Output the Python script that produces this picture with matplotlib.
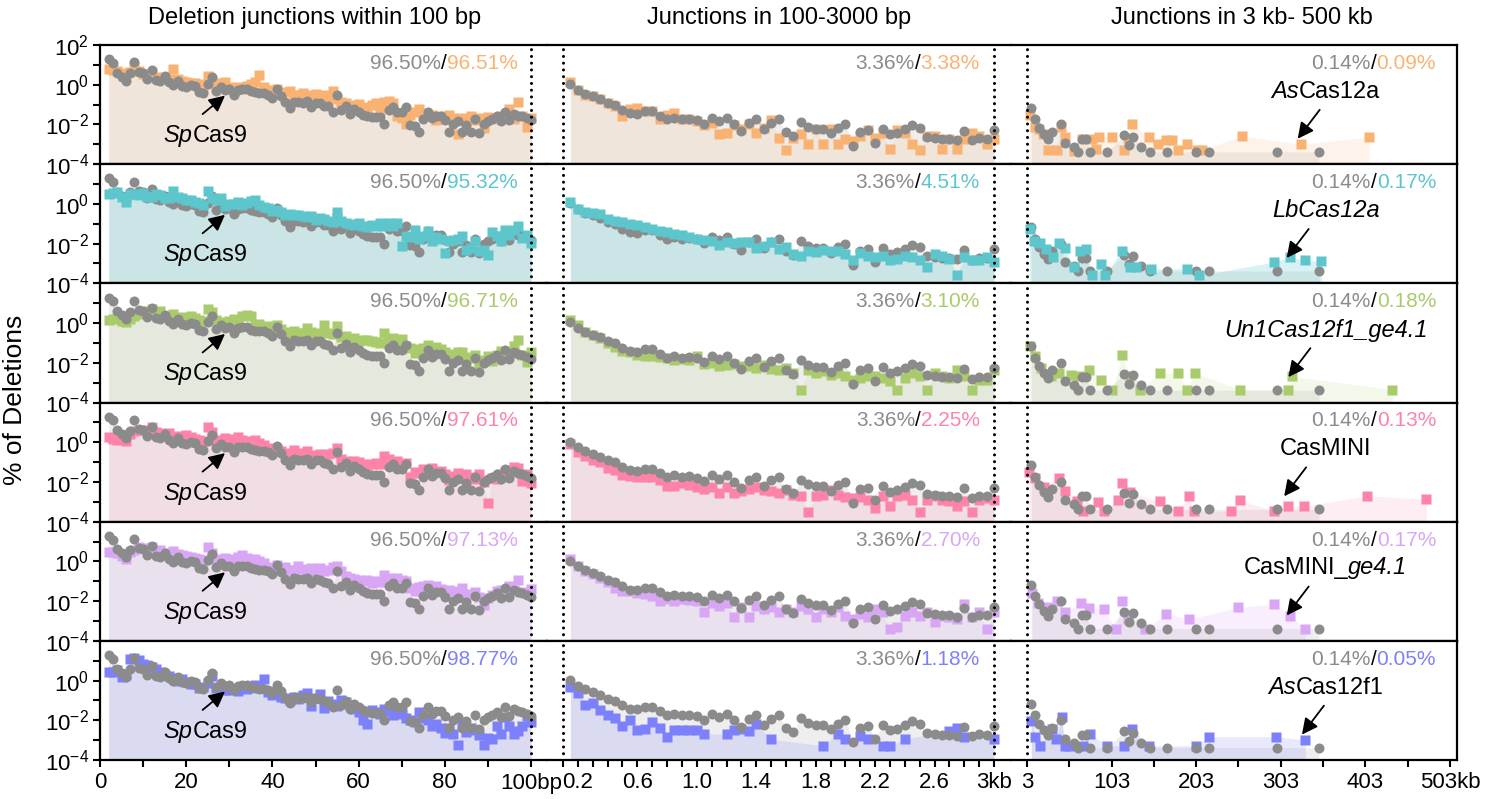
import numpy as np
import matplotlib.pyplot as plt
import matplotlib.transforms as mtrans
from matplotlib.ticker import FixedLocator, NullFormatter

plt.rcParams['font.family'] = 'Liberation Sans'
plt.rcParams['mathtext.fontset'] = 'custom'
plt.rcParams['mathtext.rm'] = 'Liberation Sans'
plt.rcParams['mathtext.it'] = 'Liberation Sans:italic'

# ---- data (log10 of % of deletions) ----
bp = np.arange(2, 101)                 # 2..100 bp
mid_kb = np.arange(0.15, 3.0001, 0.05)  # 0.15..3.0 kb bins

sp_short = [1.28, 1.1, 0.6, 0.4, 0.2, 0.58, 1.12, 0.65, 0.6, 0.3,
            0.75, 0.25, 0.2, 0.42, 0.12, -0.03, 0.2, -0.05, -0.1, 0.0,
            -0.05, -0.35, -0.4, 0.05, 0.38, -0.3, -0.1, -0.25, -0.22, -0.5,
            -0.25, -0.22, -0.22, -0.33, -0.38, -0.42, -0.42, -0.5, -0.65, -0.2,
            -0.55, -0.88, -1.15, -0.85, -0.88, -0.9, -0.83, -1.1, -0.9, -0.92,
            -1.05, -1.08, -1.35, -0.5, -1.25, -1.05, -1.45, -1.2, -1.35, -1.5,
            -1.6, -1.65, -1.65, -1.65, -2.0, -1.25, -1.1, -1.35, -1.35, -1.1,
            -2.05, -2.1, -2.4, -1.75, -1.35, -1.7, -1.55, -1.55, -1.8, -2.4,
            -2.0, -1.85, -2.4, -2.05, -2.4, -1.75, -2.45, -2.0, -1.85, -1.75,
            -1.6, -1.85, -1.35, -1.8, -1.45, -1.55, -1.6, -1.7, -1.8]
sp_mid = [0.03, -0.25, -0.45, -0.58, -0.72, -0.92, -1.02, -1.25, -1.42, -1.45,
          -1.33, -1.33, -1.55, -1.75, -1.67, -1.75, -1.72, -1.78, -1.97, -1.67,
          -1.83, -1.67, -2.0, -2.33, -1.92, -1.75, -2.22, -1.92, -1.75, -2.38,
          -2.58, -1.88, -2.12, -2.22, -2.22, -2.45, -2.17, -2.0, -3.08, -2.38,
          -2.28, -2.92, -2.22, -2.5, -2.42, -2.25, -2.05, -2.17, -2.62, -2.67,
          -2.72, -2.72, -2.78, -2.33, -2.8, -2.7, -2.72, -2.28]
sp_long_kb = [8, 13, 17, 23, 28, 33, 43, 48, 58, 63, 68, 73, 78, 98, 118, 123,
              128, 138, 148, 168, 203, 218, 298, 348]
sp_long = [-1.17, -1.75, -2.17, -2.5, -2.75, -2.38, -2.0, -2.92, -3.12, -3.38,
           -2.72, -2.72, -3.38, -3.38, -2.55, -3.05, -2.62, -3.12, -3.38, -3.38,
           -3.38, -3.38, -3.38, -3.38]

as12a_short = [0.8, 0.75, 0.7, 0.6, 0.55, 0.65, 0.9, 0.7, 0.55, 0.45,
               0.6, 0.4, 0.35, 0.4, 0.3, 0.78, 0.3, 0.2, 0.15, 0.1,
               0.1, 0.05, -0.1, 0.45, 0.2, -0.05, 0.1, 0.15, -0.1, -0.3,
               -0.1, -0.2, -0.05, 0.05, 0.15, 0.5, -0.1, -0.25, -0.3, -0.2,
               -0.45, -0.35, -0.3, -0.5, -0.5, -0.4, -0.6, -0.5, -0.45, -0.8,
               -0.5, -0.65, -0.3, -0.7, -0.85, -0.9, -1.0, -1.05, -0.95, -1.1,
               -1.2, -1.0, -0.9, -1.3, -0.85, -0.8, -0.9, -1.6, -1.7, -2.0,
               -1.5, -1.35, -1.2, -1.4, -1.55, -1.5, -1.8, -1.6, -1.75, -1.5,
               -1.7, -2.5, -1.7, -1.9, -1.6, -1.8, -1.7, -2.2, -1.65, -1.7,
               -1.75, -1.6, -1.5, -1.2, -1.75, -0.85, -1.6, -2.15, -1.7]
as12a_mid = [0.12, -0.25, -0.5, -0.55, -0.72, -0.92, -1.08, -1.55, -1.22, -1.17,
             -1.33, -1.33, -1.72, -1.5, -1.42, -1.75, -1.72, -1.83, -2.05, -1.92,
             -2.5, -2.45, -2.05, -2.25, -2.0, -2.42, -2.17, -1.78, -2.67, -3.28,
             -2.67, -2.5, -3.0, -2.25, -3.0, -2.22, -3.0, -2.75, -2.83, -2.58,
             -2.28, -2.67, -2.45, -3.25, -2.28, -2.42, -3.0, -3.28, -2.58, -2.58,
             -3.25, -2.75, -3.25, -2.75, -2.42, -2.58, -3.0, -2.75]
as12a_long_kb = [6, 12, 17, 22, 28, 38, 43, 48, 58, 68, 80, 84, 88, 103, 118,
                 122, 127, 147, 158, 167, 174, 182, 192, 204, 210, 257, 327, 407]
as12a_long = [-1.5, -2.12, -2.25, -2.5, -3.28, -3.28, -2.12, -2.62, -3.33, -2.75,
              -2.75, -3.22, -2.62, -2.62, -3.28, -2.67, -2.0, -2.62, -3.0, -2.78,
              -2.78, -3.28, -3.0, -3.28, -3.28, -2.58, -3.0, -2.63]

lb12a_short = [0.5, 0.55, 0.6, 0.35, 0.1, 0.5, 0.5, 0.45, 0.55, 0.35,
               0.35, 0.5, 0.45, 0.3, 0.3, 0.65, 0.35, 0.3, 0.2, 0.2,
               0.1, 0.05, -0.05, 0.65, 0.3, 0.2, 0.3, -0.1, 0.0, 0.0,
               0.1, -0.05, 0.05, 0.15, 0.2, -0.05, -0.15, -0.2, -0.35, -0.3,
               -0.4, -0.55, -0.5, -0.55, -0.55, -0.6, -0.65, -0.6, -0.8, -0.7,
               -0.75, -0.85, -0.9, -0.4, -0.85, -0.95, -1.0, -1.05, -0.95, -1.1,
               -1.15, -1.05, -1.1, -0.95, -1.1, -0.95, -1.1, -0.95, -2.1, -1.6,
               -1.65, -1.3, -1.75, -1.6, -1.35, -1.85, -1.65, -1.75, -2.45, -1.85,
               -1.8, -1.75, -1.6, -2.3, -2.2, -1.85, -2.35, -2.3, -2.55, -1.4,
               -1.6, -1.85, -1.3, -1.55, -1.3, -1.1, -1.7, -1.55, -1.95]
lb12a_mid = [0.07, -0.27, -0.43, -0.48, -0.52, -0.77, -0.85, -0.93, -1.02, -1.07,
             -1.15, -1.27, -1.35, -1.43, -1.52, -1.55, -1.68, -1.77, -1.82, -1.85,
             -2.05, -1.93, -1.98, -1.93, -1.93, -2.22, -2.1, -1.93, -2.27, -2.18,
             -2.52, -2.6, -2.35, -2.43, -2.32, -2.38, -2.35, -2.52, -2.85, -2.48,
             -2.6, -2.68, -2.6, -2.85, -2.77, -2.6, -2.68, -2.85, -3.18, -2.52,
             -2.6, -2.77, -3.6, -2.68, -2.85, -2.82, -2.68, -2.93]
lb12a_long_kb = [6, 11, 18, 25, 34, 41, 48, 58, 66, 73, 80, 90, 95, 115, 125,
                 132, 150, 192, 206, 295, 314, 332, 351]
lb12a_long = [-1.27, -1.85, -1.98, -2.27, -2.68, -1.98, -2.22, -3.18, -2.35, -2.27,
              -3.6, -3.02, -3.6, -2.35, -3.18, -3.18, -3.27, -3.27, -3.6, -2.93,
              -2.68, -2.85, -2.88]

un1_short = [0.15, 0.2, 0.25, 0.1, 0.05, 0.2, 0.35, 0.45, 0.5, 0.6,
             0.73, 0.55, 0.6, 0.35, 0.3, 0.45, 0.25, 0.3, 0.15, 0.35,
             0.25, 0.15, 0.1, 0.73, 0.55, 0.15, 0.05, 0.0, 0.1, 0.2,
             0.1, 0.35, 0.4, 0.35, -0.1, -0.05, -0.2, -0.15, -0.3, -0.1,
             -0.3, -0.45, -0.5, -0.4, -0.5, -0.5, -0.25, -0.45, -0.6, -0.5,
             -0.1, -0.5, -0.55, -0.15, -0.7, -0.65, -0.85, -0.75, -0.9, -0.85,
             -0.85, -0.9, -0.95, -1.0, -0.5, -0.9, -0.75, -1.0, -0.8, -1.15,
             -1.25, -1.5, -1.3, -1.25, -1.1, -1.35, -1.2, -1.3, -1.45, -1.6,
             -1.55, -1.45, -1.45, -1.7, -1.75, -1.6, -2.0, -1.85, -1.65, -1.9,
             -1.6, -1.4, -1.75, -1.5, -1.15, -0.85, -1.6, -1.95, -1.45]
un1_mid = [0.15, -0.1, -0.43, -0.6, -0.77, -0.98, -1.22, -1.43, -1.48, -1.6,
           -1.65, -1.68, -1.72, -1.77, -1.85, -1.82, -1.88, -1.68, -2.05, -2.02,
           -2.15, -2.1, -2.05, -2.15, -2.18, -2.27, -2.1, -2.32, -2.35, -2.27,
           -2.52, -3.35, -2.38, -2.52, -2.43, -2.6, -2.52, -2.68, -2.85, -2.77,
           -2.65, -2.68, -2.77, -2.93, -3.35, -2.77, -2.52, -2.68, -3.35, -2.52,
           -2.68, -2.77, -2.35, -2.68, -3.35, -2.85, -2.88, -2.35]
un1_long_kb = [6, 13, 20, 31, 41, 55, 66, 76, 90, 104, 115, 125, 136, 160, 181,
               192, 202, 255, 311, 316, 435]
un1_long = [-1.18, -1.68, -2.27, -2.68, -2.52, -2.6, -2.68, -2.35, -2.85, -3.35,
            -1.6, -2.68, -3.35, -2.52, -2.52, -3.35, -2.52, -3.35, -3.35, -2.68,
            -3.35]

mini_short = [0.25, 0.15, 0.1, 0.15, 0.05, 0.4, 0.55, 0.6, 0.6, 0.55,
              0.78, 0.5, 0.45, 0.3, 0.45, 0.3, 0.2, 0.3, 0.35, 0.25,
              0.15, 0.1, 0.05, 0.78, 0.5, 0.05, 0.1, 0.2, 0.0, 0.15,
              0.25, 0.1, 0.0, 0.05, 0.1, -0.05, -0.15, -0.35, -0.3, -0.35,
              -0.45, -0.55, -0.6, -0.4, -0.55, -0.6, -0.45, -0.7, -0.65, -0.6,
              -0.75, -0.6, -0.55, -0.3, -0.85, -0.95, -1.0, -0.95, -1.0, -1.1,
              -1.15, -1.1, -1.05, -1.1, -0.7, -0.85, -1.2, -0.95, -1.1, -1.05,
              -1.75, -1.5, -1.55, -1.35, -1.45, -1.3, -1.5, -1.45, -1.6, -1.9,
              -1.7, -1.55, -1.7, -1.6, -1.75, -1.85, -1.6, -2.0, -3.05, -1.8,
              -1.85, -1.6, -1.5, -1.4, -1.25, -1.3, -1.95, -1.6, -2.05]
mini_mid = [-0.07, -0.48, -0.7, -0.87, -0.98, -1.32, -1.4, -1.65, -1.7, -1.73,
            -1.77, -1.77, -1.9, -2.2, -2.2, -2.07, -2.15, -2.27, -2.37, -2.23,
            -2.57, -2.27, -2.57, -2.48, -2.37, -2.27, -2.4, -2.48, -2.57, -2.4,
            -2.65, -2.73, -3.53, -2.73, -2.65, -2.4, -2.65, -2.77, -2.82, -2.77,
            -2.9, -3.32, -2.7, -3.23, -2.7, -2.65, -2.9, -3.53, -2.9, -2.73,
            -2.9, -2.98, -3.23, -2.98, -3.53, -2.9, -2.82, -2.9]
mini_long_kb = [5, 13, 23, 41, 48, 62, 69, 87, 94, 111, 115, 125, 160, 181, 195,
                200, 244, 255, 295, 311, 330, 405, 475]
mini_long = [-1.48, -1.82, -2.23, -1.82, -2.48, -2.98, -3.48, -3.03, -3.48, -2.9,
             -2.07, -2.53, -2.98, -3.48, -2.73, -3.48, -3.48, -2.9, -3.48, -3.23,
             -3.23, -2.7, -2.87]

minige_short = [0.45, 0.45, 0.4, 0.25, 0.1, 0.45, 0.55, 0.7, 0.65, 0.6,
                0.72, 0.5, 0.55, 0.4, 0.3, 0.5, 0.35, 0.3, 0.25, 0.2,
                0.15, 0.1, 0.05, 0.72, 0.4, 0.1, 0.05, 0.15, 0.0, 0.1,
                0.2, 0.3, 0.15, 0.05, 0.1, 0.0, -0.1, -0.3, -0.35, -0.2,
                -0.4, -0.3, -0.45, -0.45, -0.25, -0.4, -0.5, -0.35, -0.5, -0.35,
                -0.5, -0.45, -0.3, -0.25, -0.5, -0.75, -0.85, -0.9, -0.95, -1.0,
                -0.95, -1.1, -1.0, -1.05, -0.7, -0.85, -1.0, -0.85, -0.95, -1.0,
                -1.35, -1.5, -1.3, -1.25, -1.2, -1.35, -1.25, -1.4, -1.5, -1.45,
                -1.5, -1.6, -1.35, -1.75, -1.65, -1.55, -1.8, -2.2, -1.85, -1.7,
                -1.5, -1.45, -1.6, -1.25, -1.45, -0.95, -1.55, -1.6, -1.4]
minige_mid = [0.1, -0.23, -0.48, -0.65, -0.82, -1.03, -1.32, -1.48, -1.48, -1.57,
              -1.65, -1.73, -1.98, -1.9, -1.98, -1.87, -1.93, -1.98, -2.57, -2.07,
              -2.23, -2.07, -2.82, -2.32, -2.82, -2.23, -2.4, -2.32, -2.57, -2.4,
              -2.57, -2.23, -2.4, -2.82, -2.4, -2.57, -2.32, -2.73, -2.9, -2.65,
              -2.82, -2.4, -2.57, -3.4, -3.32, -2.73, -2.57, -2.73, -2.57, -3.07,
              -2.73, -2.82, -2.9, -2.15, -2.82, -2.57, -3.4, -2.57]
minige_long_kb = [9, 16, 27, 38, 48, 67, 76, 94, 108, 115, 122, 143, 167, 195,
                  253, 295, 314, 332]
minige_long = [-1.57, -2.07, -2.32, -1.98, -2.57, -2.07, -2.37, -2.4, -3.4, -1.98,
               -2.9, -3.4, -2.65, -2.9, -2.32, -2.15, -2.73, -3.4]

as12f1_short = [0.45, 0.42, 0.55, 0.17, 0.3, 1.08, 1.15, 1.05, 0.85, 0.8,
                0.7, 0.6, 0.45, 0.3, 0.25, 0.15, 0.0, 0.1, -0.05, -0.15,
                -0.15, -0.35, -0.3, -0.1, 0.25, -0.35, -0.3, -0.5, -0.5, -0.45,
                -0.55, -0.3, -0.4, -0.3, -0.2, -0.3, 0.08, -0.6, -0.75, -0.55,
                -0.85, -0.9, -1.0, -0.85, -0.95, -0.75, -0.65, -1.3, -0.9, -0.7,
                -1.4, -1.05, -1.2, -1.3, -1.0, -1.1, -1.25, -1.45, -1.6, -2.0,
                -2.2, -1.5, -1.6, -1.7, -1.45, -1.55, -1.75, -1.45, -1.7, -1.9,
                -2.0, -2.1, -1.6, -1.9, -2.0, -2.3, -2.2, -2.4, -2.65, -2.4,
                -2.7, -3.25, -2.2, -2.6, -2.4, -2.5, -2.75, -3.25, -2.9, -2.95,
                -2.3, -2.7, -1.85, -2.3, -2.7, -2.55, -2.3, -1.8, -2.1]
as12f1_mid = [-0.3, -0.63, -1.22, -1.13, -1.47, -1.72, -1.88, -2.27, -1.97, -2.5,
              -2.43, -2.1, -2.38, -2.85, -2.47, -2.5, -2.5, -2.47, -2.68, None,
              None, -2.7, -2.48, -2.45, -2.53, -2.2, None, -2.95, None, None,
              None, None, None, None, -3.28, None, -2.67, -2.95, None, -2.78,
              -2.95, None, -3.28, -3.28, None, -2.95, None, None, None, None,
              None, -2.53, -2.37, -2.82, None, None, None, -2.95]
as12f1_long_kb = [8, 13, 18, 33, 37, 44, 48, 53, 69, 78, 98, 118, 127, 147, 203,
                  218, 297, 332]
as12f1_long = [-2.03, -2.82, -3.28, -2.42, -2.95, -1.82, -3.28, -3.28, -3.28, -2.7,
               -3.28, -3.28, -2.42, -3.28, -3.28, -2.83, -2.83, -2.98]

# label pieces: (text, font style)
names = [[('As', 'italic'), ('Cas12a', 'normal')],
         [('LbCas12a', 'italic')],
         [('Un1Cas12f1_ge4.1', 'italic')],
         [('CasMINI', 'normal')],
         [('CasMINI_', 'normal'), ('ge4.1', 'italic')],
         [('As', 'italic'), ('Cas12f1', 'normal')]]
sp_name = [('Sp', 'italic'), ('Cas9', 'normal')]
colors = ['#fab272', '#5cc6cc', '#a9cb6b', '#fd83a8', '#d9a6f6', '#7d80fb']
fill_alpha = [0.15, 0.24, 0.13, 0.14, 0.18, 0.17]
pct_short = ['96.51%', '95.32%', '96.71%', '97.61%', '97.13%', '98.77%']
pct_mid = ['3.38%', '4.51%', '3.10%', '2.25%', '2.70%', '1.18%']
pct_long = ['0.09%', '0.17%', '0.18%', '0.13%', '0.17%', '0.05%']
arrow_target = [327, 314, 316, 311, 314, 332]
sp_pct = ['96.50%', '3.36%', '0.14%']

shorts = [as12a_short, lb12a_short, un1_short, mini_short, minige_short, as12f1_short]
mids = [as12a_mid, lb12a_mid, un1_mid, mini_mid, minige_mid, as12f1_mid]
long_kbs = [as12a_long_kb, lb12a_long_kb, un1_long_kb, mini_long_kb, minige_long_kb, as12f1_long_kb]
longs = [as12a_long, lb12a_long, un1_long, mini_long, minige_long, as12f1_long]

gray = '#8b8b8b'
W, H = 1496, 799
fig = plt.figure(figsize=(W / 100, H / 100), dpi=100)
renderer = fig.canvas.get_renderer()


def mixed_text(ax, x, y, parts, size, trans):
    # centred text made of pieces in different font styles
    widths = []
    for s, st in parts:
        t = ax.text(0, 0, s, fontsize=size, fontstyle=st)
        widths.append(t.get_window_extent(renderer).width)
        t.remove()
    tr = mtrans.offset_copy(trans, fig=fig, x=-sum(widths) / 2, y=0, units='dots')
    prev = ax.text(x, y, parts[0][0], fontsize=size, fontstyle=parts[0][1],
                   ha='left', va='center', transform=tr, zorder=6)
    for s, st in parts[1:]:
        prev = ax.annotate(s, xy=(1, 0), xycoords=prev, ha='left', va='bottom',
                           fontsize=size, fontstyle=st, zorder=6)


col_px = [(100, 547), (547, 1011), (1011, 1457)]
xlims = [(0, 103.7), (-0.0077, 3.114), (-15.9, 511.3)]
vlines = [[100], [0.1, 3.0], [3]]
xmaj = [[0, 20, 40, 60, 80, 100],
        [0.2, 0.6, 1.0, 1.4, 1.8, 2.2, 2.6, 3.0],
        [3, 103, 203, 303, 403, 503]]
xmaj_lbl = [['0', '20', '40', '60', '80', '100bp'],
            ['0.2', '0.6', '1.0', '1.4', '1.8', '2.2', '2.6', '3kb'],
            ['3', '103', '203', '303', '403', '503kb']]
xmin = [[10, 30, 50, 70, 90],
        list(np.round(np.arange(0.1, 3.01, 0.1), 2)),
        [53, 153, 253, 353, 453]]
pct_x = [0.935, 0.933, 0.953]
top0 = 45
rh = 715 / 6

for r in range(6):
    col = colors[r]
    sp_x = [bp, mid_kb, np.array(sp_long_kb)]
    sp_y = [sp_short, sp_mid, sp_long]
    v_x = [bp, mid_kb, np.array(long_kbs[r])]
    v_y = [shorts[r], mids[r], longs[r]]
    pct_v = [pct_short[r], pct_mid[r], pct_long[r]]
    for c in range(3):
        l, rr = col_px[c]
        top = top0 + r * rh
        ax = fig.add_axes([l / W, 1 - (top + rh) / H, (rr - l) / W, rh / H])
        ax.set_yscale('log')
        ax.set_ylim(1e-4, 1e2)
        ax.set_xlim(*xlims[c])

        xs = np.asarray(sp_x[c], dtype=float)
        ys = 10 ** np.array(sp_y[c], dtype=float)
        xv = np.asarray(v_x[c], dtype=float)
        yv = 10 ** np.array(v_y[c], dtype=float)
        ok = np.isfinite(yv)

        ax.fill_between(xs, 1e-4, ys, color=gray, alpha=0.14, lw=0, zorder=1)
        ax.fill_between(xv[ok], 1e-4, yv[ok], color=col, alpha=fill_alpha[r],
                        lw=0, zorder=1)
        zv = 4 if r == 1 else 3
        ax.plot(xv, yv, 's', ms=7.0, color=col, mec='none', zorder=zv)
        ax.plot(xs, ys, 'o', ms=7.2, color=gray, mec='none', zorder=3.5)

        for xl in vlines[c]:
            ax.axvline(xl, color='k', lw=2.2, ls=(0, (0.01, 2.2)),
                       dash_capstyle='round', zorder=5)

        for s in ax.spines.values():
            s.set_linewidth(1.6)
        ax.spines['left'].set_visible(c == 0)
        ax.spines['right'].set_visible(c == 2)

        # x ticks
        ax.xaxis.set_major_locator(FixedLocator(xmaj[c]))
        ax.xaxis.set_minor_locator(FixedLocator(xmin[c]))
        ax.xaxis.set_minor_formatter(NullFormatter())
        if r == 5:
            ax.set_xticklabels(xmaj_lbl[c])
        else:
            ax.set_xticklabels([])
        ax.tick_params(axis='x', which='both', direction='out', length=5,
                       width=1.5, labelsize=16, pad=4)

        # y ticks
        if c == 0:
            ax.yaxis.set_major_locator(FixedLocator([1e-4, 1e-2, 1, 1e2]))
            ax.yaxis.set_minor_locator(FixedLocator([1e-3, 1e-1, 1e1]))
            ax.yaxis.set_minor_formatter(NullFormatter())
            ylbl = [r'$\mathregular{10^{-4}}$', r'$\mathregular{10^{-2}}$',
                    r'$\mathregular{10^{0}}$',
                    r'$\mathregular{10^{2}}$' if r == 0 else '']
            ax.set_yticklabels(ylbl)
            ax.tick_params(axis='y', which='both', direction='out', length=5,
                           width=1.5, labelsize=16, pad=3)
        else:
            ax.tick_params(axis='y', which='both', left=False, right=False,
                           labelleft=False)

        # percentage text: gray / colored
        t3 = ax.text(pct_x[c], 0.845, pct_v[c], color=col, fontsize=15,
                     ha='right', va='center', transform=ax.transAxes, zorder=6)
        t2 = ax.annotate('/', xy=(0, 0), xycoords=t3, ha='right', va='bottom',
                         fontsize=15, color='k', zorder=6)
        ax.annotate(sp_pct[c], xy=(0, 0), xycoords=t2, ha='right', va='bottom',
                    fontsize=15, color=gray, zorder=6)

        xtr = ax.get_xaxis_transform()
        if c == 0:
            mixed_text(ax, 24.5, 0.24, sp_name, 17, xtr)
            ax.annotate('', xy=(29, 0.575), xytext=(23.8, 0.42),
                        xycoords=xtr, textcoords=xtr,
                        arrowprops=dict(arrowstyle='-|>', color='k', lw=1.3,
                                        mutation_scale=24, shrinkA=0, shrinkB=0),
                        zorder=6)
        if c == 2:
            mixed_text(ax, 356, 0.607, names[r], 17, xtr)
            tgt = arrow_target[r]
            ax.annotate('', xy=(tgt - 4, 0.213), xytext=(tgt + 22, 0.456),
                        xycoords=xtr, textcoords=xtr,
                        arrowprops=dict(arrowstyle='-|>', color='k', lw=1.3,
                                        mutation_scale=24, shrinkA=0, shrinkB=0),
                        zorder=6)

titles = ['Deletion junctions within 100 bp', 'Junctions in 100-3000 bp',
          'Junctions in 3 kb- 500 kb']
title_x = [315, 779, 1242]
for t, x in zip(titles, title_x):
    fig.text(x / W, 1 - 18 / H, t, fontsize=17, ha='center', va='center')
fig.text(15 / W, 0.5, '% of Deletions', fontsize=19, rotation=90,
         ha='center', va='center')

fig.savefig('out.png', dpi=100)
